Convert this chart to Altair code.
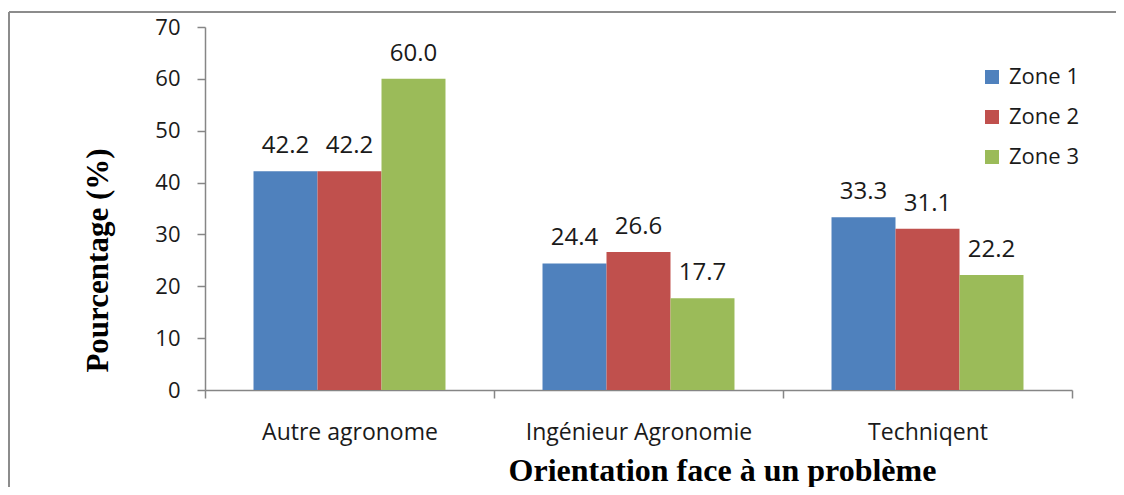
import altair as alt
import pandas as pd

categories = ["Autre agronome", "Ingénieur Agronomie", "Techniqent"]
zones = ["Zone 1", "Zone 2", "Zone 3"]
zone1 = [42.2, 24.4, 33.3]
zone2 = [42.2, 26.6, 31.1]
zone3 = [60.0, 17.7, 22.2]
colors = ["#4F81BD", "#C0504D", "#9BBB59"]
y_ticks = [0, 10, 20, 30, 40, 50, 60, 70]

rows = []
for zone, vals in zip(zones, [zone1, zone2, zone3]):
    for cat, v in zip(categories, vals):
        rows.append({"Orientation": cat, "Zone": zone, "Pourcentage": v})
df = pd.DataFrame(rows)

SANS = "Open Sans"
SERIF = "Liberation Serif"
AXIS_COLOR = "#868686"
TEXT_COLOR = "#1a1a1a"

x_enc = alt.X(
    "Orientation:N",
    sort=categories,
    scale=alt.Scale(paddingInner=0, paddingOuter=0),
    axis=alt.Axis(
        title="Orientation face à un problème",
        titleFont=SERIF,
        titleFontWeight="bold",
        titleFontSize=32,
        titleColor="#000000",
        titleX=517,
        titleY=90,
        titleAlign="center",
        titleBaseline="alphabetic",
        titleAnchor="start",
        labelFont=SANS,
        labelFontSize=23,
        labelColor=TEXT_COLOR,
        labelAngle=0,
        labelBaseline="alphabetic",
        labelPadding=41,
        labelLimit=0,
        tickSize=8,
        tickBand="extent",
        tickColor=AXIS_COLOR,
        domainColor=AXIS_COLOR,
        domainWidth=1.5,
        tickWidth=1.5,
        grid=False,
    ),
)
xoff = alt.XOffset("Zone:N", sort=zones, scale=alt.Scale(paddingInner=0, paddingOuter=0.758))
y_enc = alt.Y(
    "Pourcentage:Q",
    scale=alt.Scale(domain=[0, 70], nice=False),
    axis=alt.Axis(
        title="Pourcentage (%)",
        values=y_ticks,
        titleFont=SERIF,
        titleFontWeight="bold",
        titleFontSize=31,
        titleColor="#000000",
        titleAngle=270,
        titleX=-107,
        titleY=233,
        titleAlign="center",
        titleBaseline="middle",
        titleAnchor="start",
        labelFont=SANS,
        labelFontSize=22,
        labelColor=TEXT_COLOR,
        labelPadding=17,
        tickSize=8,
        tickColor=AXIS_COLOR,
        domainColor=AXIS_COLOR,
        domainWidth=1.5,
        tickWidth=1.5,
        grid=False,
    ),
)
color_enc = alt.Color(
    "Zone:N",
    sort=zones,
    scale=alt.Scale(domain=zones, range=colors),
    legend=alt.Legend(
        title=None,
        orient="none",
        legendX=776,
        legendY=39,
        symbolType="square",
        symbolSize=196,
        symbolStrokeWidth=0,
        labelFont=SANS,
        labelFontSize=22,
        labelColor=TEXT_COLOR,
        labelOffset=6,
        rowPadding=18,
        padding=0,
    ),
)

frame_src = pd.DataFrame({"f": [0]})
frame_top = alt.Chart(frame_src).mark_rule(color="#8c8c8c", strokeWidth=2).encode(
    x=alt.value(-196), x2=alt.value(3000), y=alt.value(-15)
)
frame_left = alt.Chart(frame_src).mark_rule(color="#8c8c8c", strokeWidth=2).encode(
    x=alt.value(-196), y=alt.value(-15), y2=alt.value(3000)
)

bars = alt.Chart(df).mark_bar().encode(
    x=x_enc, xOffset=xoff, y=y_enc, color=color_enc
)

labels = alt.Chart(df).mark_text(
    baseline="alphabetic", dy=-18, font=SANS, fontSize=24, color=TEXT_COLOR
).encode(
    x=alt.X("Orientation:N", sort=categories),
    xOffset=alt.XOffset("Zone:N", sort=zones),
    y="Pourcentage:Q",
    text=alt.Text("Pourcentage:Q", format=".1f"),
)

chart = alt.layer(frame_top, frame_left, bars, labels).properties(
    width=867,
    height=363,
    autosize=alt.AutoSizeParams(type="none"),
    padding={"left": 197, "top": 19, "right": 44, "bottom": 97},
    background="white",
).configure_view(stroke=None)

chart.save("out.html", embed_options={"renderer": "svg", "actions": False})
